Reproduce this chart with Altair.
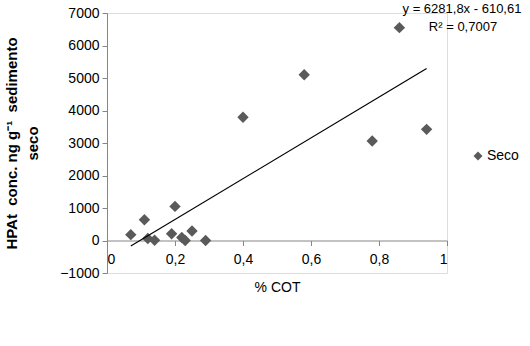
import altair as alt
import pandas as pd

cot = [0.07, 0.11, 0.12, 0.14, 0.19, 0.20, 0.22, 0.23, 0.25, 0.29, 0.40, 0.58, 0.78, 0.86, 0.94]
hpa = [180, 640, 60, 10, 210, 1050, 90, 0, 290, 0, 3790, 5100, 3060, 6550, 3420]
series = ["Seco"] * len(cot)

slope = 6281.8
intercept = -610.61
trend_x = [0.07, 0.94]
eq_lines = ["y = 6281,8x - 610,61", "R² = 0,7007"]
x_title = "% COT"
y_title = ["HPAt\u00a0\u00a0conc. ng g⁻¹\u00a0\u00a0sedimento", "seco"]

df = pd.DataFrame({"cot": cot, "hpa": hpa, "serie": series})
tdf = pd.DataFrame({"cot": trend_x, "hpa": [slope * v + intercept for v in trend_x]})

font = "Liberation Sans"
gray = "#868686"

xscale = alt.Scale(domain=[0, 1], nice=False, zero=False)
yscale = alt.Scale(domain=[-1000, 7000], nice=False, zero=False)

xaxis = alt.Axis(values=[0, 0.2, 0.4, 0.6, 0.8, 1.0], grid=False, offset=-32.5,
                 labelExpr="replace(format(datum.value, '.1~f'), '.', ',')",
                 domainColor=gray, tickColor=gray, tickSize=5,
                 labelFont=font, labelFontSize=14, labelColor="#000000", labelPadding=7,
                 titleFont=font, titleFontSize=14, titleFontWeight="normal", titleColor="#000000",
                 titlePadding=14)
yaxis = alt.Axis(values=list(range(-1000, 8000, 1000)), grid=False, format="d",
                 domainColor=gray, tickColor=gray, tickSize=5,
                 labelFont=font, labelFontSize=14, labelColor="#000000", labelPadding=3,
                 titleFont=font, titleFontSize=15, titleFontWeight="bold", titleColor="#000000",
                 titleLineHeight=21, titlePadding=19)

points = alt.Chart(df).mark_point(shape="diamond", filled=True, size=130, opacity=1).encode(
    x=alt.X("cot:Q", scale=xscale, title=x_title, axis=xaxis),
    y=alt.Y("hpa:Q", scale=yscale, title=y_title, axis=yaxis),
    color=alt.Color("serie:N", scale=alt.Scale(range=["#5a5a5a"]),
                    legend=alt.Legend(title=None, orient="none", legendX=364, legendY=136,
                                      symbolType="diamond", symbolSize=80, symbolOpacity=1,
                                      labelFont=font, labelFontSize=14, labelColor="#000000",
                                      labelOffset=2, symbolStrokeWidth=0)),
)

trend = alt.Chart(tdf).mark_line(color="#000000", strokeWidth=1.2).encode(
    x=alt.X("cot:Q", scale=xscale, title=x_title, axis=xaxis),
    y=alt.Y("hpa:Q", scale=yscale, title=y_title, axis=yaxis),
)

eq1 = alt.Chart(pd.DataFrame({"t": [eq_lines[0]]})).mark_text(
    font=font, fontSize=13, align="center", baseline="middle", color="#000000").encode(
    text="t:N", x=alt.value(355), y=alt.value(-4))
eq2 = alt.Chart(pd.DataFrame({"t": [eq_lines[1]]})).mark_text(
    font=font, fontSize=13, align="center", baseline="middle", color="#000000").encode(
    text="t:N", x=alt.value(356), y=alt.value(14))

chart = alt.layer(points, trend, eq1, eq2).properties(
    width=340, height=260,
    autosize=alt.AutoSizeParams(type="none"),
    padding={"left": 107, "top": 13, "right": 83, "bottom": 73},
).configure_view(strokeWidth=0).configure(background="white")

chart.save("out.html", embed_options={"renderer": "svg", "actions": False})
